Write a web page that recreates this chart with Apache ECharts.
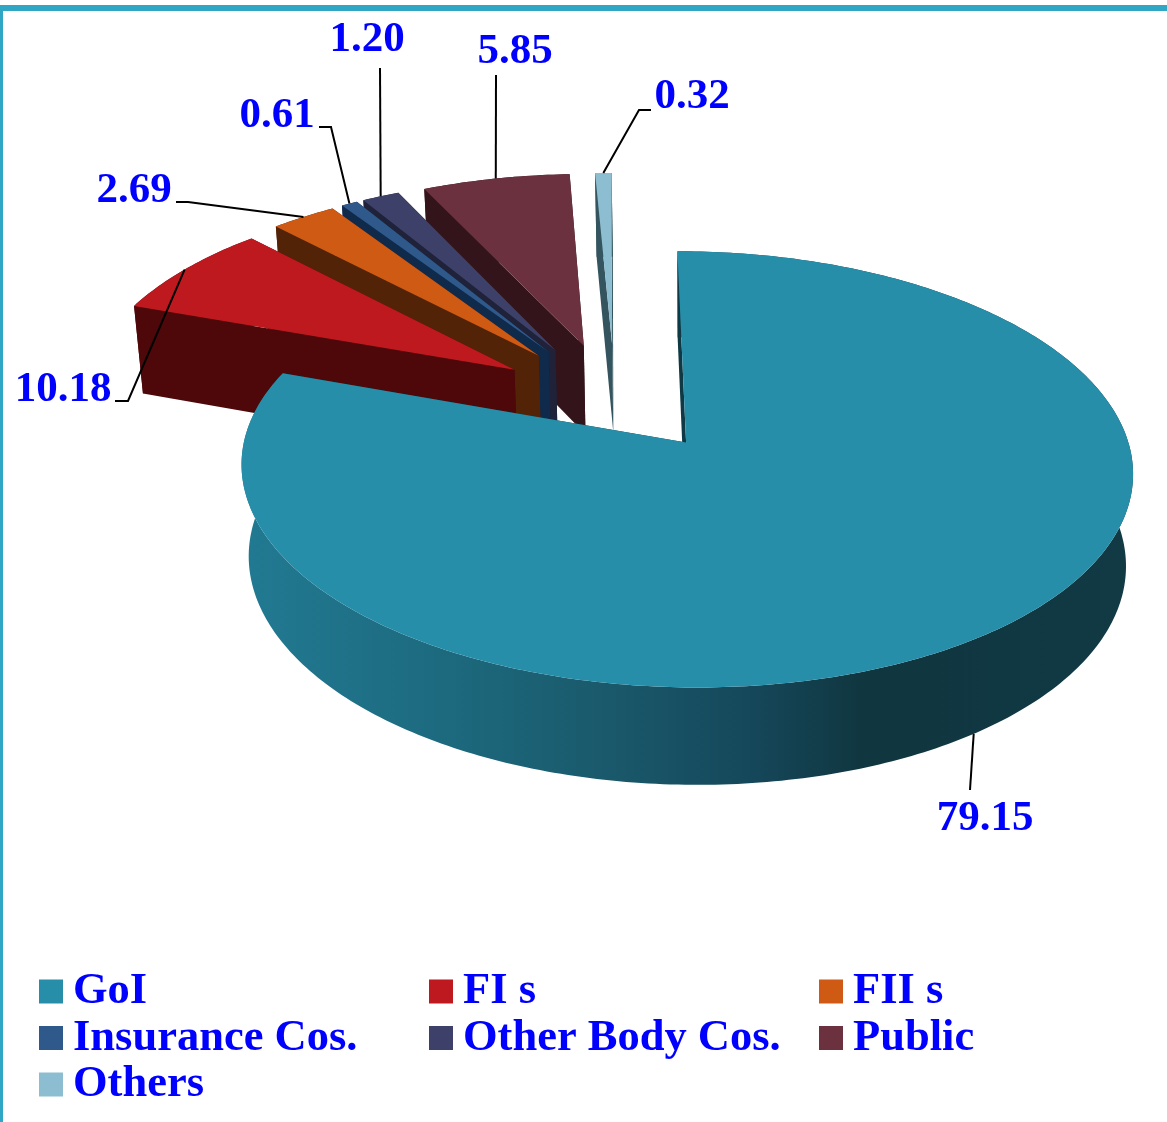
<!DOCTYPE html>
<html>
<head>
<meta charset="utf-8">
<style>
  html, body { margin: 0; padding: 0; background: #fff; }
  #chart { width: 1167px; height: 1122px; }
</style>
<script src="https://cdn.jsdelivr.net/npm/echarts@6/dist/echarts.min.js"></script>
</head>
<body>
<div id="chart"></div>
<script>
// data
const names = ["GoI", "FI s", "FII s", "Insurance Cos.", "Other Body Cos.", "Public", "Others"];
// what the labels say
const shares = [79.15, 10.18, 2.69, 0.61, 1.2, 5.85, 0.32];
// slice sizes as measured on the drawing, they do not quite agree with the labels
const drawnShares = [80.05, 7.35, 2.8, 0.7, 1.6, 6.3, 0.7];

// legend columns
const legendCols = [
  ["GoI", "Insurance Cos.", "Others"],
  ["FI s", "Other Body Cos."],
  ["FII s", "Public"],
];

const topColors = ["#278ea9", "#bf1920", "#cf5a13", "#30598b", "#3d4169", "#6b313e", "#8dbdd0"];
const sideColors = ["#1d6d84", "#4e0809", "#532307", "#0f2a4a", "#1f2238", "#33141a", "#34545f"];

// pie "camera"
const cam = { cx: 607, cy: 398, rx: 431, ry: 204, p: 0.12, h: 90, s: 0.984, vx: 690, explode: 0.26 };
// small correction per slice on top of the explode, in pie radii
const nudge = [[0.029, 0], [0, 0], [0, -0.01], [0, -0.012], [0, -0.012], [0.007, -0.012], [0.018, -0.012]];

// where the leader lines go after leaving the slice, and the text centre
const leaders = [
  { frac: 0.5, base: true, via: [[970, 790]], text: [985, 819] },
  { frac: 0.49, via: [[128, 401], [115, 401]], text: [63, 390] },
  { frac: 0.5, via: [[188, 202], [176, 202]], text: [134, 191] },
  { frac: 0.5, via: [[331, 127], [319, 127]], text: [277, 116] },
  { frac: 0.5, via: [[380, 68]], text: [367, 40] },
  { frac: 0.5, via: [[496, 75]], text: [515, 52] },
  { frac: 0.5, via: [[639, 110], [651, 110]], text: [692, 97] },
];

const total = drawnShares.reduce((a, b) => a + b, 0);
const startAngles = [];
drawnShares.reduce((acc, v, i) => {
  startAngles[i] = (acc / total) * Math.PI * 2;
  return acc + v;
}, 0);

const project = (X, Y, bottom) => {
  const f = 1 / (1 - cam.p * Y);
  let x = cam.cx + cam.rx * X * f;
  let y = cam.cy + cam.ry * Y * f;
  if (bottom) {
    x = cam.vx + (x - cam.vx) * cam.s;
    y += cam.h * Math.sqrt(f);
  }
  return [x, y];
};

// point of slice i at angle a (clockwise from 12 o'clock), r = 0 is the apex
const slicePoint = (i, a, r, bottom) => {
  const mid = startAngles[i] + (drawnShares[i] / total) * Math.PI;
  const X = cam.explode * Math.sin(mid) + nudge[i][0] + r * Math.sin(a);
  const Y = -cam.explode * Math.cos(mid) + nudge[i][1] - r * Math.cos(a);
  return project(X, Y, bottom);
};

const rimPoints = (i, value, bottom) => {
  const a0 = startAngles[i];
  const sweep = (value / total) * Math.PI * 2;
  const n = Math.max(2, Math.ceil(sweep / 0.015));
  const pts = [];
  for (let k = 0; k <= n; k++) pts.push(slicePoint(i, a0 + (sweep * k) / n, 1, bottom));
  return pts;
};

const sideFill = (i) => {
  if (i !== 0) return sideColors[i];
  return {
    type: "linear", x: 0, y: 0, x2: 1, y2: 0,
    colorStops: [
      { offset: 0, color: "#217a92" },
      { offset: 0.21, color: "#1d6b80" },
      { offset: 0.4, color: "#1a5a6c" },
      { offset: 0.575, color: "#15475a" },
      { offset: 0.7, color: "#10363f" },
      { offset: 1, color: "#113a45" },
    ],
  };
};

const renderSlice = (i) => (params, api) => {
  const value = api.value(0);
  const topRim = rimPoints(i, value, false);
  const baseRim = rimPoints(i, value, true);
  const apexTop = slicePoint(i, 0, 0, false);
  const apexBase = slicePoint(i, 0, 0, true);
  const last = topRim.length - 1;
  const poly = (points, fill) => ({ type: "polygon", shape: { points }, style: { fill } });
  return {
    type: "group",
    children: [
      poly(topRim.concat(baseRim.slice().reverse()), sideFill(i)),
      poly([apexTop, topRim[last], baseRim[last], apexBase], i === 0 ? "#0f3a45" : sideColors[i]),
      poly([apexTop, topRim[0], baseRim[0], apexBase], i === 0 ? "#0f3a45" : sideColors[i]),
      poly([apexTop].concat(topRim), topColors[i]),
    ],
  };
};

const renderLabel = (params, api) => {
  const i = params.dataIndex;
  const conf = leaders[i];
  const a = startAngles[i] + ((drawnShares[i] / total) * Math.PI * 2) * conf.frac;
  const start = slicePoint(i, a, 1, !!conf.base);
  return {
    type: "group",
    children: [
      {
        type: "polyline",
        shape: { points: [start].concat(conf.via) },
        style: { stroke: "#000", lineWidth: 2, fill: "none" },
      },
      {
        type: "text",
        style: {
          x: conf.text[0],
          y: conf.text[1],
          text: api.value(0).toFixed(2),
          fill: "#0000ff",
          font: 'bold 43px "Liberation Serif"',
          align: "center",
          verticalAlign: "middle",
        },
      },
    ],
  };
};

// painted back to front, GoI last so it sits on top of the others
const sliceSeries = names.map((name, i) => ({
  name,
  type: "custom",
  coordinateSystem: "none",
  silent: true,
  animation: false,
  z: 2 + (names.length - i),
  itemStyle: { color: topColors[i] },
  data: [[drawnShares[i]]],
  renderItem: renderSlice(i),
}));

const legendX = [39, 429, 819];

const chart = echarts.init(document.getElementById("chart"));
chart.setOption({
  backgroundColor: "#fff",
  animation: false,
  graphic: [
    { type: "rect", shape: { x: 0, y: 5, width: 1167, height: 6 }, style: { fill: "#2fa6c4" }, silent: true },
    { type: "rect", shape: { x: 0, y: 5, width: 3, height: 1117 }, style: { fill: "#2fa6c4" }, silent: true },
  ],
  legend: legendCols.map((col, c) => ({
    data: col,
    orient: "vertical",
    left: legendX[c],
    top: 969,
    padding: 0,
    icon: "rect",
    itemWidth: 24,
    itemHeight: 24,
    itemGap: 1.5,
    selectedMode: false,
    textStyle: {
      color: "#0000ff",
      fontFamily: "Liberation Serif",
      fontWeight: "bold",
      fontSize: 44.5,
      padding: [0, 0, 0, 5],
    },
  })),
  series: sliceSeries.concat([
    {
      type: "custom",
      coordinateSystem: "none",
      silent: true,
      animation: false,
      z: 20,
      data: shares.map((v) => [v]),
      renderItem: renderLabel,
    },
  ]),
});
</script>
</body>
</html>
